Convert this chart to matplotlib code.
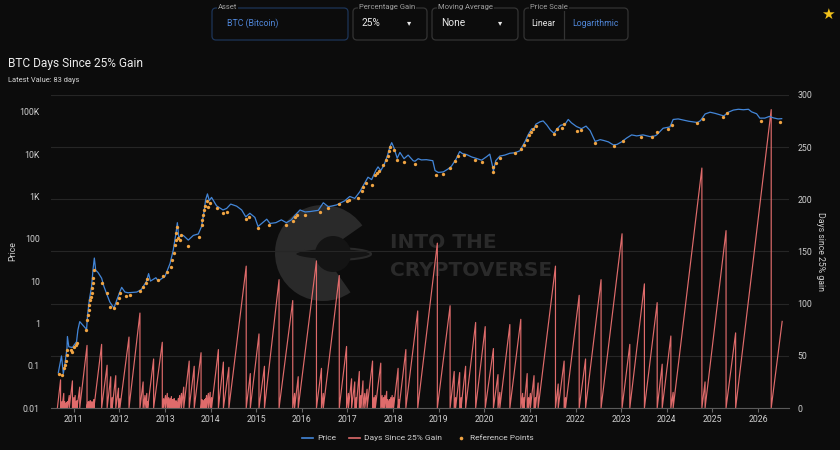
import numpy as np
import matplotlib
matplotlib.use('Agg')
import matplotlib.pyplot as plt
from matplotlib.patches import FancyBboxPatch, Wedge, Circle, Ellipse
from matplotlib.lines import Line2D
from matplotlib.ticker import NullLocator

plt.rcParams['font.family'] = ['Roboto', 'DejaVu Sans']

# BTC price
price_years = [2010.66, 2010.73, 2010.77, 2010.80, 2010.85, 2010.86, 2010.89, 2010.97, 2011.06, 2011.09,
               2011.13, 2011.20, 2011.28, 2011.30, 2011.34, 2011.39, 2011.42, 2011.45, 2011.48, 2011.53,
               2011.61, 2011.66, 2011.72, 2011.79, 2011.88, 2011.94, 2012.01, 2012.05, 2012.12, 2012.19,
               2012.38, 2012.48, 2012.59, 2012.64, 2012.68, 2012.80, 2012.85, 2013.00, 2013.11, 2013.18,
               2013.24, 2013.27, 2013.30, 2013.40, 2013.51, 2013.62, 2013.73, 2013.80, 2013.85, 2013.89,
               2013.93, 2013.97, 2014.02, 2014.13, 2014.27, 2014.35, 2014.44, 2014.57, 2014.68, 2014.77,
               2014.86, 2014.97, 2015.04, 2015.12, 2015.23, 2015.30, 2015.43, 2015.55, 2015.66, 2015.77,
               2015.85, 2015.96, 2016.07, 2016.18, 2016.36, 2016.47, 2016.58, 2016.76, 2016.94, 2017.05,
               2017.16, 2017.27, 2017.38, 2017.45, 2017.53, 2017.62, 2017.67, 2017.73, 2017.80, 2017.88,
               2017.93, 2017.97, 2018.02, 2018.09, 2018.15, 2018.24, 2018.33, 2018.44, 2018.48, 2018.55,
               2018.62, 2018.73, 2018.87, 2018.92, 2018.99, 2019.10, 2019.21, 2019.28, 2019.38, 2019.46,
               2019.52, 2019.61, 2019.72, 2019.83, 2019.94, 2020.05, 2020.12, 2020.18, 2020.20, 2020.25,
               2020.34, 2020.45, 2020.56, 2020.67, 2020.78, 2020.89, 2020.96, 2021.04, 2021.07, 2021.13,
               2021.22, 2021.29, 2021.37, 2021.45, 2021.53, 2021.59, 2021.67, 2021.77, 2021.84, 2021.91,
               2022.02, 2022.13, 2022.23, 2022.32, 2022.43, 2022.54, 2022.62, 2022.72, 2022.83, 2022.91,
               2023.01, 2023.12, 2023.23, 2023.34, 2023.48, 2023.63, 2023.74, 2023.78, 2023.92, 2024.07,
               2024.14, 2024.25, 2024.36, 2024.48, 2024.58, 2024.67, 2024.74, 2024.84, 2024.95, 2025.06,
               2025.17, 2025.25, 2025.35, 2025.46, 2025.57, 2025.68, 2025.79, 2025.86, 2025.97, 2026.04,
               2026.15, 2026.25, 2026.34, 2026.44, 2026.52]
price_values = [0.068, 0.17, 0.065, 0.1, 0.26, 0.49, 0.28, 0.27, 0.37, 0.7,
                1.1, 0.9, 0.72, 1.5, 3.6, 7.4, 18, 35, 18, 16,
                11.7, 7.5, 5, 3.2, 2.3, 3.5, 5.6, 7.1, 5.5, 5.3,
                5.5, 6.3, 9.7, 15, 10, 12, 10, 13, 26, 54,
                135, 240, 110, 120, 93, 120, 130, 195, 400, 830,
                1150, 800, 950, 600, 480, 520, 660, 590, 480, 330,
                400, 320, 195, 230, 290, 230, 240, 280, 240, 280,
                360, 480, 430, 440, 470, 710, 570, 630, 790, 1000,
                900, 1290, 2100, 2850, 2500, 4100, 5000, 4100, 5500, 9500,
                15000, 18700, 14000, 8000, 11000, 7800, 9500, 7000, 6800, 7800,
                7300, 7400, 7000, 4100, 3700, 3800, 4500, 5200, 7600, 11500,
                10300, 9800, 8600, 7900, 7200, 8700, 10000, 5200, 4000, 7000,
                9000, 9500, 10500, 10800, 12000, 19500, 28500, 40000, 36000, 51000,
                58000, 61000, 49000, 37000, 31000, 39000, 48000, 51000, 66000, 55000,
                45000, 40000, 46000, 36000, 20000, 22000, 21000, 19500, 16500, 17000,
                19500, 24000, 28500, 27000, 28500, 26000, 27000, 28500, 41000, 44000,
                66000, 68000, 64000, 60000, 58000, 56000, 62000, 89000, 98000, 92000,
                85000, 80000, 98000, 110000, 115000, 112000, 115000, 100000, 90000, 71000,
                71000, 78000, 72000, 68000, 69000]

# reference points (25% gain reached)
ref_years = [2010.68, 2010.75, 2010.78, 2010.80, 2010.82, 2010.84, 2010.86, 2010.93, 2010.96, 2011.00,
             2011.04, 2011.07, 2011.26, 2011.30, 2011.31, 2011.33, 2011.34, 2011.35, 2011.37, 2011.39,
             2011.40, 2011.42, 2011.43, 2011.44, 2011.61, 2011.72, 2011.80, 2011.88, 2011.94, 2011.99,
             2012.01, 2012.14, 2012.24, 2012.45, 2012.52, 2012.58, 2012.61, 2012.85, 2012.96, 2013.05,
             2013.12, 2013.16, 2013.19, 2013.21, 2013.24, 2013.25, 2013.27, 2013.29, 2013.32, 2013.36,
             2013.51, 2013.75, 2013.80, 2013.82, 2013.84, 2013.86, 2013.88, 2013.91, 2013.95, 2013.98,
             2014.15, 2014.27, 2014.35, 2014.77, 2014.84, 2015.04, 2015.28, 2015.65, 2015.80, 2015.85,
             2015.90, 2016.07, 2016.39, 2016.58, 2016.82, 2016.99, 2017.04, 2017.23, 2017.31, 2017.34,
             2017.40, 2017.53, 2017.60, 2017.64, 2017.70, 2017.78, 2017.84, 2017.88, 2017.91, 2017.93,
             2018.02, 2018.09, 2018.24, 2018.48, 2018.94, 2019.09, 2019.25, 2019.36, 2019.43, 2019.55,
             2019.79, 2019.94, 2020.18, 2020.20, 2020.25, 2020.34, 2020.67, 2020.80, 2020.87, 2020.93,
             2020.98, 2021.03, 2021.07, 2021.13, 2021.53, 2021.59, 2021.70, 2021.75, 2022.04, 2022.13,
             2022.43, 2022.84, 2023.03, 2023.43, 2023.67, 2023.79, 2024.03, 2024.11, 2024.66, 2024.80,
             2025.24, 2025.33, 2026.07, 2026.48]
ref_values = [0.064, 0.060, 0.087, 0.105, 0.13, 0.18, 0.235, 0.24, 0.21, 0.28,
              0.31, 0.35, 0.70, 1.2, 1.6, 2.1, 2.7, 3.6, 4.3, 5.3,
              6.8, 8.9, 11.7, 18, 9.2, 5.1, 2.5, 2.3, 3.0, 3.9,
              5.1, 4.4, 4.7, 5.9, 7.1, 8.9, 11, 10.7, 13.3, 16.6,
              21.8, 31.5, 45, 71, 93, 135, 194, 102, 93, 120,
              68, 110, 214, 277, 363, 475, 600, 760, 575, 690,
              525, 400, 436, 295, 330, 178, 214, 214, 270, 320,
              363, 363, 436, 525, 660, 795, 830, 910, 1380, 1660,
              2050, 1870, 3240, 3500, 4100, 5500, 7240, 9100, 12000, 15100,
              12600, 7240, 6600, 6000, 3240, 3400, 4700, 7000, 9100, 9600,
              7240, 6600, 5000, 3850, 6300, 8000, 10500, 13200, 16600, 21800,
              28300, 34000, 39000, 47000, 30000, 39000, 41000, 51000, 36000, 37000,
              18600, 15500, 20000, 25000, 25000, 33000, 39000, 49000, 54000, 66000,
              77000, 95000, 62000, 58000]

# days since last 25% gain: value reached just before each reset (last one = latest)
days_start = 2010.64
peak_years = [2010.71, 2010.72, 2010.74, 2010.78, 2010.80, 2010.82, 2010.84, 2010.86, 2010.90, 2010.97,
              2011.00, 2011.03, 2011.05, 2011.07, 2011.13, 2011.29, 2011.30, 2011.32, 2011.34, 2011.36,
              2011.38, 2011.40, 2011.42, 2011.44, 2011.61, 2011.73, 2011.81, 2011.84, 2011.92, 2011.98,
              2012.01, 2012.21, 2012.45, 2012.52, 2012.56, 2012.60, 2012.62, 2012.75, 2012.94, 2012.97,
              2013.01, 2013.05, 2013.08, 2013.11, 2013.14, 2013.16, 2013.18, 2013.20, 2013.22, 2013.24,
              2013.26, 2013.29, 2013.32, 2013.36, 2013.41, 2013.53, 2013.64, 2013.79, 2013.81, 2013.83,
              2013.85, 2013.87, 2013.89, 2013.91, 2013.95, 2013.99, 2014.02, 2014.17, 2014.28, 2014.40,
              2014.78, 2014.87, 2015.06, 2015.18, 2015.50, 2015.80, 2015.84, 2015.92, 2016.32, 2016.43,
              2016.47, 2016.82, 2016.98, 2017.02, 2017.09, 2017.16, 2017.19, 2017.26, 2017.29, 2017.34,
              2017.38, 2017.43, 2017.55, 2017.58, 2017.61, 2017.73, 2017.76, 2017.79, 2017.82, 2017.86,
              2017.88, 2017.90, 2017.92, 2017.95, 2017.98, 2018.01, 2018.11, 2018.13, 2018.28, 2018.54,
              2018.97, 2019.25, 2019.34, 2019.37, 2019.46, 2019.49, 2019.59, 2019.81, 2020.02, 2020.20,
              2020.30, 2020.34, 2020.56, 2020.80, 2020.84, 2020.87, 2020.94, 2020.97, 2021.01, 2021.09,
              2021.12, 2021.18, 2021.56, 2021.62, 2021.75, 2021.78, 2022.08, 2022.22, 2022.56, 2023.02,
              2023.19, 2023.51, 2023.79, 2023.90, 2024.09, 2024.14, 2024.77, 2024.84, 2025.30, 2025.51,
              2026.29, 2026.53]
peak_days = [27, 4, 6, 14, 6, 4, 5, 6, 12, 26,
             10, 12, 6, 7, 20, 60, 4, 6, 5, 7,
             6, 5, 6, 8, 61, 41, 30, 10, 31, 19,
             9, 68, 91, 25, 12, 14, 6, 47, 63, 9,
             12, 14, 10, 9, 11, 8, 7, 9, 6, 7,
             5, 9, 12, 14, 20, 45, 40, 53, 8, 6,
             7, 8, 9, 12, 14, 15, 10, 56, 44, 39,
             136, 33, 71, 40, 123, 103, 14, 30, 141, 38,
             14, 127, 59, 14, 28, 25, 10, 35, 12, 26,
             14, 18, 45, 10, 12, 43, 12, 10, 12, 16,
             8, 6, 8, 10, 12, 10, 38, 8, 56, 93,
             158, 98, 35, 10, 34, 10, 40, 82, 78, 57,
             32, 15, 80, 85, 14, 10, 33, 10, 14, 31,
             10, 24, 136, 23, 45, 10, 108, 47, 123, 167,
             61, 119, 101, 42, 69, 15, 230, 25, 170, 72,
             286, 83]

year_ticks = list(range(2011, 2027))
price_ticks = [0.01, 0.1, 1, 10, 100, 1e3, 1e4, 1e5]
price_tick_labels = ['0.01', '0.1', '1', '10', '100', '1K', '10K', '100K']
day_ticks = [0, 50, 100, 150, 200, 250, 300]

BG = '#0c0c0c'
GRID = '#262626'
TXT = '#cfcfcf'
BLUE = '#4386d8'
RED = '#df6b6b'
ORANGE = '#f0a443'
WM = '#2a2a2a'

fig = plt.figure(figsize=(8.4, 4.5), dpi=100, facecolor=BG)

# overlay in pixel units for the page furniture and watermark
ov = fig.add_axes([0, 0, 1, 1], zorder=0)
ov.set_xlim(0, 840)
ov.set_ylim(0, 450)
ov.axis('off')


def Y(py):
    return 450 - py


# control boxes
boxes = [(212, 348, 'Asset', '#1d3558'), (353, 427, 'Percentage Gain', '#333333'),
         (432, 518, 'Moving Average', '#333333'), (524, 628, 'Price Scale', '#333333')]
for x0, x1, lab, ec in boxes:
    ov.add_patch(FancyBboxPatch((x0, Y(40)), x1 - x0, 32, boxstyle='round,pad=0,rounding_size=4',
                                fc=BG, ec=ec, lw=0.9))
    ov.text(x0 + 6, Y(7), lab, color='#a0a0a0', fontsize=5.5, va='center', ha='left',
            bbox=dict(fc=BG, ec='none', pad=0.6))
ov.text(227, Y(23), 'BTC (Bitcoin)', color='#4f86d8', fontsize=6.3, va='center')
ov.text(362, Y(23), '25%', color='#e8e8e8', fontsize=7.3, va='center')
ov.text(409, Y(23), '▾', color='#e8e8e8', fontsize=6, va='center', ha='center',
        family=['DejaVu Sans'])
ov.text(441, Y(23), 'None', color='#e8e8e8', fontsize=7.3, va='center')
ov.text(500, Y(23), '▾', color='#e8e8e8', fontsize=6, va='center', ha='center',
        family=['DejaVu Sans'])
ov.text(531, Y(23), 'Linear', color='#e8e8e8', fontsize=6.3, va='center')
ov.plot([564, 564], [Y(9), Y(39)], color='#333333', lw=0.9)
ov.text(572, Y(23), 'Logarithmic', color='#4f86d8', fontsize=6.3, va='center')
ov.text(828, Y(14), '★', color='#f2c21b', fontsize=11, va='center', ha='center',
        family=['DejaVu Sans'])

ov.text(8, Y(64), 'BTC Days Since 25% Gain', color='#ececec', fontsize=8.6, va='center')
ov.text(8, Y(80), f'Latest Value: {peak_days[-1]} days', color='#d8d8d8', fontsize=5.4, va='center')

# watermark
ov.add_patch(Wedge((323, Y(253)), 48, 35, 305, fc=WM, ec='none'))
ov.add_patch(Ellipse((333, Y(254)), 76, 12, fc='#141414', ec=WM, lw=1.5))
ov.add_patch(Circle((333, Y(254)), 18, fc='#141414', ec='none'))
ov.text(390, Y(243), 'INTO THE', color=WM, fontsize=14.5, fontweight='bold', va='center',
        family=['DejaVu Sans'])
ov.text(390, Y(270), 'CRYPTOVERSE', color=WM, fontsize=14.5, fontweight='bold', va='center',
        family=['DejaVu Sans'])

# main chart: price on the left (log), days on the right
ax = fig.add_axes([51 / 840, 42 / 450, 738 / 840, 313 / 450])
ax2 = ax.twinx()
ax.set_zorder(2)
ax2.set_zorder(1)
ax.patch.set_visible(False)
ax2.patch.set_visible(False)

# sawtooth path
dx = [days_start]
dy = [0]
for t, d in zip(peak_years[:-1], peak_days[:-1]):
    dx += [t, t]
    dy += [d, 0]
dx.append(peak_years[-1])
dy.append(peak_days[-1])
ax2.plot(dx, dy, color=RED, lw=0.85)

ax.plot(price_years, price_values, color=BLUE, lw=0.9)
ax.plot(ref_years, ref_values, 'o', color=ORANGE, ms=2.4, mew=0)

ax.set_xlim(2010.50, 2026.68)
ax.set_yscale('log')
ax.set_ylim(0.01, 2.5e5)
ax.set_yticks(price_ticks)
ax.set_yticklabels(price_tick_labels)
ax.yaxis.set_minor_locator(NullLocator())
ax.set_xticks(year_ticks)
ax.set_xticklabels([str(y) for y in year_ticks])
ax.tick_params(axis='x', colors='#666666', labelcolor=TXT, labelsize=6.3, length=3, width=0.8, pad=2)
ax.tick_params(axis='y', length=0, labelcolor=TXT, labelsize=6.3, pad=8)

ax2.set_ylim(0, 300)
ax2.set_yticks(day_ticks)
ax2.tick_params(axis='y', length=0, labelcolor=TXT, labelsize=6.3, pad=6)
ax2.yaxis.grid(True, color=GRID, lw=0.8)

for s in ['top', 'left', 'right']:
    ax.spines[s].set_visible(False)
    ax2.spines[s].set_visible(False)
ax2.spines['bottom'].set_visible(False)
ax.spines['bottom'].set_color('#5a5a5a')

ax.set_ylabel('Price', color=TXT, fontsize=6.3, labelpad=2)
ax2.set_ylabel('Days since 25% gain', color=TXT, fontsize=6.3, rotation=270, labelpad=9)

handles = [Line2D([], [], color=BLUE, lw=1.2),
           Line2D([], [], color=RED, lw=1.2),
           Line2D([], [], color=ORANGE, marker='o', ls='none', ms=2.6, mew=0)]
fig.legend(handles, ['Price', 'Days Since 25% Gain', 'Reference Points'], loc='center',
           bbox_to_anchor=(418 / 840, 1 - 438 / 450), ncol=3, frameon=False, fontsize=6,
           labelcolor=TXT, handlelength=1.3, handletextpad=0.5, columnspacing=1.6)

fig.savefig('out.png', dpi=100, facecolor=BG)
